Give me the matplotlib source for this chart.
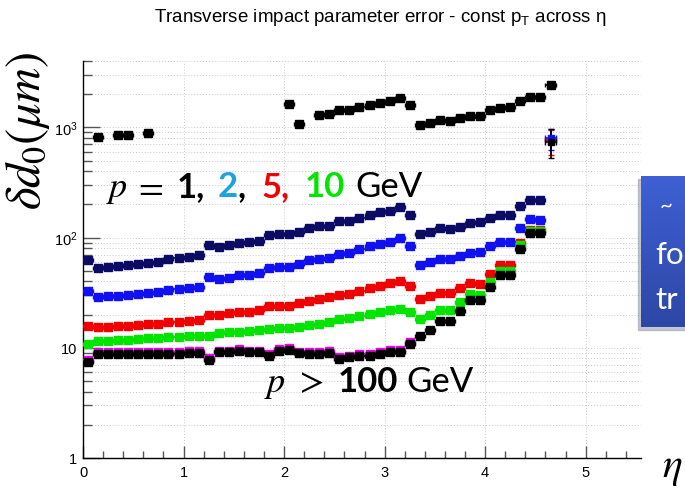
import numpy as np
import matplotlib
matplotlib.use('Agg')
import matplotlib.pyplot as plt
from matplotlib.ticker import LogLocator, MultipleLocator, FuncFormatter, NullFormatter
from matplotlib.colors import LinearSegmentedColormap
from matplotlib.patches import Rectangle

plt.rcParams['font.family'] = ['Liberation Sans', 'DejaVu Sans']
plt.rcParams['mathtext.fontset'] = 'stix'

# eta bin centres (bin width 0.1)
eta = [0.05, 0.15, 0.25, 0.35, 0.45, 0.55, 0.65, 0.75, 0.85, 0.95, 1.05, 1.15,
       1.25, 1.35, 1.45, 1.55, 1.65, 1.75, 1.85, 1.95, 2.05, 2.15, 2.25, 2.35,
       2.45, 2.55, 2.65, 2.75, 2.85, 2.95, 3.05, 3.15, 3.25,
       3.35, 3.45, 3.55, 3.65, 3.75, 3.85, 3.95, 4.05, 4.15, 4.25, 4.35, 4.45, 4.55]

navy = [62.4, 53.1, 54.2, 55.0, 55.8, 57.0, 58.6, 60.2, 63.3, 65.0, 66.8, 69.2,
        86.5, 82.3, 85.3, 89.5, 90.3, 93.4, 105.7, 107.4, 107.4, 113, 121, 127.7,
        127.7, 140.9, 140.9, 152, 159.6, 169, 174.6, 187.5, 160.7,
        107.4, 112.7, 121, 118.5, 126, 136, 139, 149, 159.6, 159.6, 193.8, 219.6, 219.6]
blue = [32.5, 29.0, 29.4, 29.6, 29.9, 30.9, 31.3, 32.2, 33.1, 34.1, 35.0, 35.7,
        43.8, 42.0, 43.1, 45.3, 45.3, 47.6, 53.5, 54.2, 54.2, 57.4, 62.0, 63.7,
        64.7, 70.7, 72.2, 78.5, 83.0, 87.1, 91.4, 98.1, 83.0,
        56.8, 60.5, 63.7, 63.7, 68.2, 72.7, 73.8, 83.6, 91.4, 91.4, 121, 146, 145]
red = [15.8, 15.6, 15.6, 15.8, 15.8, 16.1, 16.3, 16.6, 17.0, 17.2, 17.5, 17.7,
       19.8, 19.8, 20.5, 21.2, 21.2, 22.1, 24.0, 24.0, 24.0, 25.4, 26.5, 28.0,
       28.6, 30.0, 30.7, 32.9, 34.8, 36.5, 38.4, 40.5, 36.0,
       27.6, 29.6, 31.3, 31.3, 34.8, 38.6, 37.8, 46.6, 56.2, 56.2, 89, 117, 117]
green = [10.8, 11.6, 11.6, 11.7, 11.8, 12.0, 12.2, 12.3, 12.6, 12.6, 12.7, 12.8,
         12.8, 13.6, 13.8, 14.0, 14.3, 14.5, 14.8, 15.0, 15.0, 15.6, 16.1, 16.6,
         17.2, 18.2, 18.5, 19.5, 20.2, 21.2, 22.1, 22.4, 21.2,
         18.2, 19.8, 22.1, 22.1, 25.8, 30.7, 30.0, 39.7, 49.9, 49.9, 85.3, 114, 114]
magenta = [7.7, 9.1, 9.1, 9.1, 9.1, 9.1, 9.1, 9.1, 9.1, 9.1, 9.3, 9.3,
           8.0, 9.4, 9.4, 9.8, 9.4, 9.4, 8.8, 9.8, 10.0, 9.1, 9.1, 9.1,
           9.3, 8.2, 8.5, 8.8, 8.8, 9.1, 9.5, 9.5, 11.2]
black_low = [7.37, 8.77, 8.77, 8.77, 8.77, 8.77, 8.77, 8.77, 8.77, 8.77, 8.95, 8.95,
             7.73, 9.08, 9.08, 9.39, 9.08, 9.08, 8.46, 9.39, 9.59, 8.9, 8.77, 8.77,
             8.95, 7.90, 8.18, 8.46, 8.46, 8.77, 9.20, 9.20, 10.9,
             12.8, 14.4, 17.6, 17.6, 21.6, 26.9, 26.9, 35.9, 45.8, 45.8, 79.3, 109, 109]

eta_top = [0.15, 0.35, 0.45, 0.65, 2.05, 2.15,
           2.35, 2.45, 2.55, 2.65, 2.75, 2.85, 2.95, 3.05, 3.15, 3.25,
           3.35, 3.45, 3.55, 3.65, 3.75, 3.85, 3.95, 4.05, 4.15, 4.25, 4.35, 4.45, 4.55, 4.65]
black_top = [818, 848, 860, 890, 1643, 1067,
             1295, 1334, 1429, 1438, 1531, 1586, 1664, 1735, 1835, 1586,
             1045, 1089, 1177, 1143, 1217, 1280, 1280, 1438, 1500, 1521, 1735, 1902, 1902, 2423]

# odd last bin with large errors
eta_last = [4.65]
last_vals = {'red': 765, 'blue': 800, 'black': 740}
last_err = {'red': (200, 190), 'blue': (180, 170), 'black': (208, 221)}

W, H = 685, 489
fig = plt.figure(figsize=(6.85, 4.89), dpi=100)
ax = fig.add_axes([83 / W, 1 - 459 / H, 558 / W, 397 / H])


def draw(x, y, color, zo):
    ax.errorbar(x, y, xerr=0.05, fmt='s', color=color, mec=color, ms=5.5,
                elinewidth=1.2, capsize=1.5, capthick=1.0, zorder=zo)


draw(eta_top, black_top, 'black', 3)
draw(eta, navy, '#0b0b66', 3)
draw(eta, blue, '#1010f0', 3)
draw(eta, red, '#f00000', 3)
draw(eta, green, '#00e400', 3)
draw(eta[:len(magenta)], magenta, '#ee00ee', 3)
draw(eta, black_low, 'black', 4)

for col, c in [('red', '#f00000'), ('blue', '#1010f0'), ('black', 'black')]:
    lo, hi = last_err[col]
    ax.errorbar(eta_last, [last_vals[col]], xerr=0.05, yerr=[[lo], [hi]], fmt='s',
                color=c, mec=c, ms=5, elinewidth=1.2, capsize=2, zorder=4)

ax.set_yscale('log')
ax.set_xlim(0, 5.55)
ax.set_ylim(1, 4000)

ax.yaxis.set_major_locator(LogLocator(base=10, numticks=10))
ax.yaxis.set_minor_locator(LogLocator(base=10, subs=range(2, 10), numticks=20))
ax.yaxis.set_minor_formatter(NullFormatter())
ylabels = {1: '1', 10: '10', 100: r'$\mathregular{10^{2}}$', 1000: r'$\mathregular{10^{3}}$'}
ax.yaxis.set_major_formatter(FuncFormatter(lambda v, p: ylabels.get(int(round(v)), '')))
ax.xaxis.set_major_locator(MultipleLocator(1))
ax.xaxis.set_minor_locator(MultipleLocator(0.2))

ax.grid(True, axis='y', which='both', ls=(0, (1, 2)), color='#c8c8c8', lw=0.7)
ax.grid(True, axis='x', which='major', ls=(0, (1, 2)), color='#c8c8c8', lw=0.7)
ax.set_axisbelow(True)

for s in ['top', 'right']:
    ax.spines[s].set_visible(False)
for s in ['left', 'bottom']:
    ax.spines[s].set_linewidth(1.0)

ax.tick_params(axis='both', which='both', direction='in', color='#555555', width=1.0,
               labelsize=10.5, labelcolor='black')
ax.tick_params(axis='y', which='major', length=12, pad=4)
ax.tick_params(axis='y', which='minor', length=6.5)
ax.tick_params(axis='x', which='major', length=9, pad=5)
ax.tick_params(axis='x', which='minor', length=5)

fig.text(380 / W, 1 - 18 / H,
         r'Transverse impact parameter error - const $\mathregular{p_{T}}$ across η',
         ha='center', va='center', fontsize=13.5)

fig.text(28 / W, 1 - 131 / H, r'$\delta d_0(\mu m)$', rotation=90,
         ha='center', va='center', fontsize=35)
fig.text(672 / W, 1 - 468 / H, r'$\eta$', ha='center', va='center', fontsize=30)

renderer = fig.canvas.get_renderer()


def put_parts(x_px, base_px, parts):
    x = x_px
    for s, kw, gap in parts:
        t = fig.text(x / W, 1 - base_px / H, s, va='baseline', ha='left', **kw)
        x += t.get_window_extent(renderer).width + gap


big = dict(fontsize=25, family=['Lato', 'DejaVu Sans'])
bold = dict(big, fontweight='bold')
put_parts(106, 197, [
    (r'$p$', dict(fontsize=26), 5),
    (r'$=$', dict(fontsize=26), 14),
    ('1,', dict(bold, color='black'), 12),
    ('2', dict(bold, color='#1fa3df'), 0),
    (',', dict(bold, color='black'), 16),
    ('5,', dict(bold, color='#f00000'), 15),
    ('10', dict(bold, color='#00e400'), 10),
    ('GeV', dict(big, color='black'), 0),
])
put_parts(264, 392, [
    (r'$p$', dict(fontsize=26), 8),
    (r'$>$', dict(fontsize=26), 14),
    ('100', dict(bold, color='black'), 9),
    ('GeV', dict(big, color='black'), 0),
])

# slide overlay box on the right
fig.patches.append(Rectangle((638 / W, 1 - 331 / H), 60 / W, 151 / H,
                             transform=fig.transFigure, color='#8890a8', alpha=0.5,
                             zorder=5))
bax = fig.add_axes([641 / W, 1 - 328 / H, 50 / W, 151 / H], zorder=6)
grad = np.linspace(0, 1, 64).reshape(-1, 1)
cm = LinearSegmentedColormap.from_list('box', ['#3e60d4', '#2d47a6'])
bax.imshow(grad, aspect='auto', cmap=cm)
bax.axis('off')
fig.text(660 / W, 1 - 212 / H, '~', color='white', fontsize=16,
         family=['Lato', 'DejaVu Sans'], va='baseline', zorder=7)
fig.text(655 / W, 1 - 264 / H, 'fo', color='white', fontsize=22.5,
         family=['Lato', 'DejaVu Sans'], va='baseline', zorder=7)
fig.text(655 / W, 1 - 309 / H, 'tr', color='white', fontsize=22.5,
         family=['Lato', 'DejaVu Sans'], va='baseline', zorder=7)

fig.savefig('out.png', dpi=100)
